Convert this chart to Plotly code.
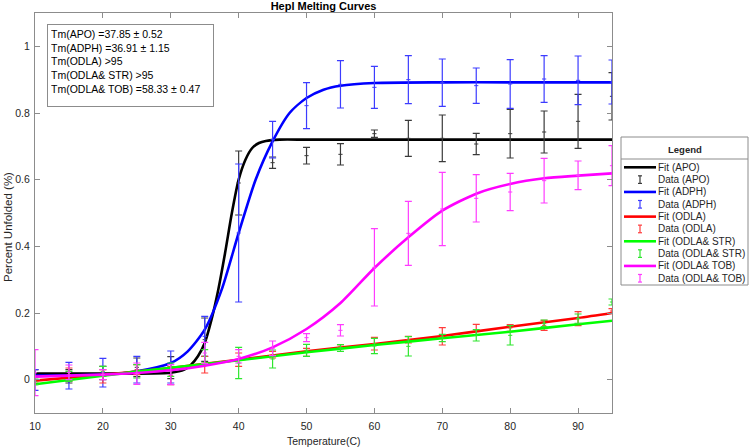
import plotly.graph_objects as go

# ---------------- data ----------------
temps = [10, 15, 20, 25, 30, 35, 40, 45, 50, 55, 60, 65, 70, 75, 80, 85, 90, 95]

apo_mean = [0.02, 0.01, 0.02, 0.037, 0.036, 0.12, 0.59, 0.651, 0.672, 0.676, 0.738, 0.724, 0.724, 0.707, 0.738, 0.743, 0.775, 0.85]
apo_err = [0.01, 0.02, 0.02, 0.028, 0.033, 0.065, 0.096, 0.017, 0.025, 0.032, 0.011, 0.054, 0.07, 0.032, 0.073, 0.063, 0.081, 0.071]

adph_mean = [-0.001, 0.012, 0.021, 0.03, 0.038, 0.13, 0.44, 0.72, 0.822, 0.886, 0.877, 0.9, 0.891, 0.882, 0.887, 0.902, 0.898, 0.893]
adph_err = [0.031, 0.04, 0.043, 0.04, 0.048, 0.06, 0.207, 0.055, 0.069, 0.071, 0.063, 0.072, 0.071, 0.053, 0.073, 0.07, 0.073, 0.066]

odla_mean = [0.0, 0.015, 0.01, 0.03, 0.012, 0.045, 0.06, 0.075, 0.082, 0.1, 0.108, 0.12, 0.13, 0.15, 0.155, 0.163, 0.183, 0.206]
odla_err = [0.01, 0.02, 0.02, 0.015, 0.027, 0.025, 0.02, 0.01, 0.012, 0.005, 0.019, 0.01, 0.026, 0.016, 0.01, 0.015, 0.021, 0.007]

str_mean = [-0.005, 0.01, 0.025, 0.025, 0.03, 0.07, 0.05, 0.062, 0.088, 0.095, 0.101, 0.1, 0.125, 0.133, 0.133, 0.169, 0.183, 0.233]
str_err = [0.01, 0.015, 0.015, 0.02, 0.02, 0.02, 0.047, 0.027, 0.018, 0.01, 0.023, 0.029, 0.011, 0.017, 0.029, 0.01, 0.014, 0.009]

tob_mean = [0.021, 0.022, 0.015, 0.018, 0.015, 0.08, 0.07, 0.094, 0.126, 0.148, 0.337, 0.439, 0.512, 0.544, 0.563, 0.597, 0.613, 0.642]
tob_err = [0.069, 0.022, 0.015, 0.032, 0.03, 0.032, 0.02, 0.022, 0.012, 0.017, 0.116, 0.096, 0.11, 0.071, 0.056, 0.067, 0.043, 0.06]

# fitted curves
apo_fit_x = [10, 20, 30, 32, 33, 34, 35, 36, 37, 38, 39, 40, 41, 42, 43, 44, 46, 50, 60, 70, 80, 95]
apo_fit_y = [0.018, 0.018, 0.021, 0.03, 0.045, 0.07, 0.11, 0.18, 0.27, 0.38, 0.5, 0.6, 0.66, 0.695, 0.71, 0.716, 0.72, 0.72, 0.72, 0.72, 0.72, 0.72]

adph_fit_x = [10, 20, 25, 30, 32.5, 35, 37.5, 40, 42.5, 45, 47.5, 50, 52.5, 55, 60, 70, 80, 95]
adph_fit_y = [0.012, 0.015, 0.025, 0.05, 0.085, 0.15, 0.27, 0.44, 0.6, 0.715, 0.8, 0.845, 0.87, 0.882, 0.89, 0.892, 0.892, 0.892]

odla_fit_x = [10, 20, 30, 40, 50, 60, 70, 80, 90, 95]
odla_fit_y = [-0.003, 0.015, 0.035, 0.06, 0.085, 0.107, 0.131, 0.159, 0.185, 0.2]

str_fit_x = [10, 20, 30, 40, 50, 60, 70, 80, 90, 95]
str_fit_y = [-0.014, 0.012, 0.036, 0.058, 0.082, 0.104, 0.124, 0.144, 0.166, 0.177]

tob_fit_x = [10, 20, 25, 30, 35, 40, 45, 50, 55, 60, 65, 70, 75, 80, 85, 90, 95]
tob_fit_y = [0.009, 0.015, 0.02, 0.028, 0.042, 0.062, 0.097, 0.152, 0.23, 0.335, 0.427, 0.507, 0.558, 0.587, 0.604, 0.612, 0.619]

fit_names = ["Fit (APO)", "Fit (ADPH)", "Fit (ODLA)", "Fit (ODLA& STR)", "Fit (ODLA& TOB)"]
data_names = ["Data (APO)", "Data (ADPH)", "Data (ODLA)", "Data (ODLA& STR)", "Data (ODLA& TOB)"]
line_colors = ["#000000", "#0000ff", "#ff0000", "#00ff00", "#ff00ff"]
err_colors = ["#3a3a3a", "#3c3cff", "#ff3c3c", "#2ee62e", "#ff3cff"]

tm_lines = ["Tm(APO) =37.85 ± 0.52", "Tm(ADPH) =36.91 ± 1.15", "Tm(ODLA) >95",
            "Tm(ODLA& STR) >95", "Tm(ODLA& TOB) =58.33 ± 0.47"]

x_ticks = [10, 20, 30, 40, 50, 60, 70, 80, 90]
y_ticks = [0, 0.2, 0.4, 0.6, 0.8, 1]
y_tick_text = ["0", "0.2", "0.4", "0.6", "0.8", "1"]

# ---------------- figure ----------------
W, H = 749, 447
L, R, T, B = 35, 612, 13, 413
FONT = "Liberation Sans, Arial, sans-serif"
TXT = "#262626"

fits = [(apo_fit_x, apo_fit_y), (adph_fit_x, adph_fit_y), (odla_fit_x, odla_fit_y),
        (str_fit_x, str_fit_y), (tob_fit_x, tob_fit_y)]
datas = [(apo_mean, apo_err), (adph_mean, adph_err), (odla_mean, odla_err),
         (str_mean, str_err), (tob_mean, tob_err)]

fig = go.Figure()
for i in range(5):
    fx, fy = fits[i]
    fig.add_trace(go.Scatter(x=fx, y=fy, mode="lines", name=fit_names[i],
                             line=dict(color=line_colors[i], width=2.6, shape="spline", smoothing=0.7),
                             showlegend=False))
    m, e = datas[i]
    fig.add_trace(go.Scatter(x=temps, y=m, mode="markers", name=data_names[i],
                             marker=dict(symbol="line-ew", size=3, color=err_colors[i],
                                         line=dict(width=1, color=err_colors[i])),
                             error_y=dict(type="data", array=e, color=err_colors[i], thickness=1.2, width=3.5),
                             showlegend=False))


def px2x(px):
    return (px - L) / (R - L)


def px2y(py):
    return (B - py) / (B - T)


shapes = []
annotations = []

# legend box (manual)
shapes.append(dict(type="rect", xref="paper", yref="paper", x0=px2x(621), x1=px2x(748),
                   y0=px2y(285), y1=px2y(137), line=dict(color="#8c8c8c", width=1), fillcolor="white", layer="above"))
shapes.append(dict(type="line", xref="paper", yref="paper", x0=px2x(621), x1=px2x(748),
                   y0=px2y(159), y1=px2y(159), line=dict(color="#8c8c8c", width=1), layer="above"))
annotations.append(dict(text="<b>Legend</b>", xref="paper", yref="paper", x=px2x(685), y=px2y(149.5),
                        xanchor="center", yanchor="middle", showarrow=False, font=dict(size=9.5, color=TXT, family=FONT)))
labels = []
for i in range(5):
    labels.append((fit_names[i], "line", line_colors[i]))
    labels.append((data_names[i], "bar", err_colors[i]))
for k, (lab, kind, col) in enumerate(labels):
    yy = 167.3 + k * 12.33
    if kind == "line":
        shapes.append(dict(type="line", xref="paper", yref="paper", x0=px2x(624), x1=px2x(656),
                           y0=px2y(yy), y1=px2y(yy), line=dict(color=col, width=2.6), layer="above"))
    else:
        shapes.append(dict(type="line", xref="paper", yref="paper", x0=px2x(640), x1=px2x(640),
                           y0=px2y(yy - 3.8), y1=px2y(yy + 3.8), line=dict(color=col, width=1.2), layer="above"))
        for dy in (-3.8, 3.8):
            shapes.append(dict(type="line", xref="paper", yref="paper", x0=px2x(638), x1=px2x(642),
                               y0=px2y(yy + dy), y1=px2y(yy + dy), line=dict(color=col, width=1.2), layer="above"))
    annotations.append(dict(text=lab, xref="paper", yref="paper", x=px2x(656), y=px2y(yy),
                            xanchor="left", yanchor="middle", showarrow=False,
                            font=dict(size=10, color=TXT, family=FONT)))

# Tm text box
annotations.append(dict(text="<br>".join(tm_lines), xref="paper", yref="paper",
                        x=px2x(47), y=px2y(24), xanchor="left", yanchor="top", showarrow=False,
                        align="left", valign="top", width=159, height=75, borderpad=3,
                        bordercolor="#8c8c8c", borderwidth=1, bgcolor="white",
                        font=dict(size=10.5, color="#000000", family=FONT)))

# axis titles
annotations.append(dict(text="Temperature(C)", xref="paper", yref="paper", x=0.5, y=px2y(441),
                        xanchor="center", yanchor="middle", showarrow=False,
                        font=dict(size=10.5, color=TXT, family=FONT)))
annotations.append(dict(text="Percent Unfolded (%)", xref="paper", yref="paper", x=px2x(8), y=px2y(227),
                        xanchor="center", yanchor="middle", showarrow=False, textangle=-90,
                        font=dict(size=11.5, color=TXT, family=FONT)))

fig.update_layout(
    width=W, height=H,
    margin=dict(l=L, r=W - R, t=T, b=H - B, pad=0),
    paper_bgcolor="white", plot_bgcolor="white",
    font=dict(family=FONT, size=10.5, color=TXT),
    title=dict(text="<b>Hepl Melting Curves</b>", x=0.5, xref="paper", y=1 - 6 / H, yref="container",
               xanchor="center", yanchor="middle", font=dict(size=11, color="#000000", family=FONT)),
    shapes=shapes, annotations=annotations, showlegend=False,
)
fig.update_xaxes(range=[10, 95], tickvals=x_ticks, ticks="inside", ticklen=5, tickcolor="#8c8c8c",
                 showline=True, linecolor="#8c8c8c", linewidth=1, mirror="ticks", showgrid=False,
                 zeroline=False, tickfont=dict(size=10.5, color=TXT), ticklabelstandoff=3)
fig.update_yaxes(range=[-0.1, 1.1], tickvals=y_ticks, ticktext=y_tick_text, ticks="inside", ticklen=5,
                 tickcolor="#8c8c8c", showline=True, linecolor="#8c8c8c", linewidth=1, mirror="ticks",
                 showgrid=False, zeroline=False, tickfont=dict(size=10.5, color=TXT), ticklabelstandoff=2)

fig.write_html("out.html", config={"displayModeBar": False},
               post_script="document.body.style.margin='0px';document.body.style.overflow='hidden';")
